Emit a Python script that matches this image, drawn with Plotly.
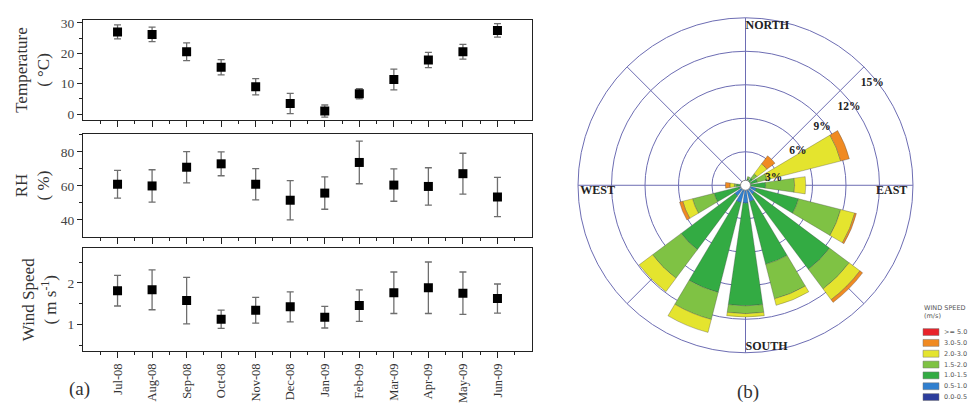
import plotly.graph_objects as go

# ---------------- data ----------------
months = ["Jul-08", "Aug-08", "Sep-08", "Oct-08", "Nov-08", "Dec-08",
          "Jan-09", "Feb-09", "Mar-09", "Apr-09", "May-09", "Jun-09"]
temperature = [27.0, 26.2, 20.5, 15.4, 9.0, 3.5, 1.0, 6.7, 11.4, 17.8, 20.5, 27.5]
temperature_err = [2.3, 2.4, 2.9, 2.5, 2.7, 3.3, 2.0, 1.7, 3.4, 2.5, 2.4, 2.2]
rh = [61.0, 60.0, 71.0, 73.0, 61.0, 51.6, 55.8, 73.8, 60.5, 59.7, 67.2, 53.5]
rh_err = [8.2, 9.5, 9.2, 7.0, 9.2, 11.5, 9.5, 12.5, 9.5, 11.0, 12.0, 11.5]
wind_speed = [1.81, 1.83, 1.57, 1.12, 1.34, 1.42, 1.17, 1.45, 1.76, 1.88, 1.75, 1.62]
wind_speed_err = [0.37, 0.48, 0.56, 0.22, 0.31, 0.36, 0.26, 0.38, 0.50, 0.62, 0.51, 0.35]

directions = [0, 22.5, 45, 67.5, 90, 112.5, 135, 157.5,
              180, 202.5, 225, 247.5, 270, 292.5, 315, 337.5]
#            N    NNE  NE   ENE  E    ESE   SE   SSE  S    SSW  SW   WSW  W    WNW  NW   NNW
ws_00_05 = [0.1, 0.1, 0.1, 0.1, 0.1, 0.2, 0.2, 0.3, 0.3, 0.3, 0.2, 0.1, 0.1, 0.1, 0.1, 0.1]
ws_05_10 = [0.2, 0.2, 0.3, 0.3, 0.3, 0.8, 0.8, 1.2, 1.3, 1.3, 1.0, 0.5, 0.3, 0.2, 0.2, 0.2]
ws_10_15 = [0.0, 0.3, 0.4, 0.7, 1.4, 3.9, 8.4, 5.8, 9.2, 8.3, 6.0, 2.3, 0.4, 0.0, 0.0, 0.0]
ws_15_20 = [0.0, 0.2, 0.5, 0.9, 2.6, 3.9, 2.2, 3.2, 0.7, 2.5, 3.2, 2.0, 0.2, 0.0, 0.0, 0.0]
ws_20_30 = [0.0, 0.0, 1.1, 6.8, 1.0, 1.3, 1.2, 0.6, 0.3, 1.2, 1.5, 0.9, 0.4, 0.0, 0.0, 0.0]
ws_30_50 = [0.0, 0.0, 0.9, 0.8, 0.0, 0.15, 0.3, 0.0, 0.0, 0.0, 0.0, 0.3, 0.4, 0.0, 0.0, 0.0]
ws_50_up = [0.0] * 16

bin_labels = [">= 5.0", "3.0-5.0", "2.0-3.0", "1.5-2.0", "1.0-1.5", "0.5-1.0", "0.0-0.5"]
bin_colors = ["#e8232a", "#f08a22", "#e4e42e", "#7fc244", "#33ab43", "#2f7fcf", "#2c3d9c"]
bin_values = [ws_50_up, ws_30_50, ws_20_30, ws_15_20, ws_10_15, ws_05_10, ws_00_05]

ring_vals = [3, 6, 9, 12, 15]
ring_label_theta = [76, 57, 53, 53, 51]
compass = ["NORTH", "EAST", "SOUTH", "WEST"]

# ---------------- figure ----------------
W, H = 972, 404
SERIF = "Liberation Serif, Times New Roman, serif"
SANS = "DejaVu Sans, sans-serif"


def fx(p):
    return p / W


def fy(p):
    return 1 - p / H


fig = go.Figure()

panels = [
    ("x", "y", temperature, temperature_err),
    ("x2", "y2", rh, rh_err),
    ("x3", "y3", wind_speed, wind_speed_err),
]
xs = list(range(len(months)))
for xa, ya, vals, errs in panels:
    fig.add_trace(go.Scatter(
        x=xs, y=vals, mode="markers", xaxis=xa, yaxis=ya, showlegend=False,
        marker=dict(symbol="square", size=9, color="black"),
        error_y=dict(type="data", array=errs, color="#6e6e6e", thickness=1.3, width=3.5),
    ))

# wind rose (stack from calm outward)
for lab, col, vals in reversed(list(zip(bin_labels, bin_colors, bin_values))):
    fig.add_trace(go.Barpolar(
        r=vals, theta=directions, name=lab, subplot="polar", showlegend=False,
        marker=dict(color=col, line=dict(color="rgba(70,70,70,0.55)", width=0.6)),
    ))
fig.add_trace(go.Scatterpolar(
    r=[0], theta=[0], mode="markers", subplot="polar", showlegend=False,
    marker=dict(color="white", size=10, line=dict(color="#888", width=1)),
))
# ring labels (percent of time)
fig.add_trace(go.Scatterpolar(
    r=[v - 0.4 for v in ring_vals], theta=ring_label_theta, mode="text", subplot="polar",
    text=[f"<b>{v}%</b>" for v in ring_vals], textposition="middle center",
    textfont=dict(family=SERIF, size=11.5, color="#222"), showlegend=False,
))
fig.add_trace(go.Scatterpolar(
    r=[14.3, 14.5, 14.5, 14.8], theta=[0, 90, 180, 270], mode="text", subplot="polar",
    text=[f"<b>{c}</b>" for c in compass],
    textposition=["middle right", "bottom left", "middle right", "bottom right"],
    textfont=dict(family=SERIF, size=12, color="#222"), showlegend=False,
))

xdom = [fx(83), fx(532)]
ydoms = [[fy(118), fy(16)], [fy(236.5), fy(132)], [fy(352.5), fy(248)]]
axline = dict(showline=True, mirror=True, linecolor="#222", linewidth=1.3,
              showgrid=False, zeroline=False, ticks="outside", tickcolor="#222",
              tickwidth=1.2)
tickfont = dict(family=SERIF, size=13.5, color="#444")
titlefont = dict(family=SERIF, size=17, color="#333")

minor_x = dict(tickmode="array", tickvals=[i - 0.5 for i in range(14)], ticklen=3,
               ticks="outside", tickcolor="#222", tickwidth=1.1)
for i, (xa, ya) in enumerate([("xaxis", "yaxis"), ("xaxis2", "yaxis2"), ("xaxis3", "yaxis3")]):
    fig.layout[xa] = dict(domain=xdom, range=[-1, 12], anchor=ya.replace("axis", ""),
                          tickmode="array", tickvals=xs, ticktext=months,
                          showticklabels=(i == 2), tickangle=-90, ticklen=6,
                          tickfont=dict(family=SERIF, size=12.5, color="#333"),
                          minor=minor_x, **axline)

fig.layout.yaxis = dict(domain=ydoms[0], range=[-2, 31], anchor="x",
                        tickmode="array", tickvals=[0, 10, 20, 30], ticklen=5,
                        minor=dict(tickmode="array", tickvals=[5, 15, 25], ticklen=3, ticks="outside"),
                        tickfont=tickfont,
                        title=dict(text="Temperature<br>( °C)", font=titlefont, standoff=6),
                        **axline)
fig.layout.yaxis2 = dict(domain=ydoms[1], range=[30, 90.5], anchor="x2",
                         tickmode="array", tickvals=[40, 60, 80], ticklen=5,
                         minor=dict(tickmode="array", tickvals=[50, 70, 90], ticklen=3, ticks="outside"),
                         tickfont=tickfont,
                         title=dict(text="RH<br>( %)", font=titlefont, standoff=6),
                         **axline)
fig.layout.yaxis3 = dict(domain=ydoms[2], range=[0.35, 2.83], anchor="x3",
                         tickmode="array", tickvals=[1, 2], ticklen=5,
                         minor=dict(tickmode="array", tickvals=[0.5, 1.5, 2.5], ticklen=3, ticks="outside"),
                         tickfont=tickfont,
                         title=dict(text="Wind Speed<br>( m s<sup>-1</sup>)", font=titlefont, standoff=6),
                         **axline)

grid_col = "#6d6db3"
fig.layout.polar = dict(
    domain=dict(x=[fx(575.5), fx(915.5)], y=[fy(354), fy(14)]),
    bgcolor="white", barmode="stack", bargap=0.27,
    radialaxis=dict(range=[0, 15], tickmode="array", tickvals=ring_vals,
                    showticklabels=False, showline=False, ticks="",
                    layer="below traces", gridcolor=grid_col, gridwidth=1),
    angularaxis=dict(direction="clockwise", rotation=90, tickmode="array",
                     tickvals=[0, 45, 90, 135, 180, 225, 270, 315],
                     showticklabels=False, ticks="", layer="below traces",
                     gridcolor=grid_col, gridwidth=1, showline=True,
                     linecolor=grid_col, linewidth=1),
)

# legend for the wind rose
shapes = []
annotations = []
for txt, yy in [("WIND SPEED", 309), ("(m/s)", 317)]:
    annotations.append(dict(x=fx(922), y=fy(yy), xref="paper", yref="paper", text=txt,
                            showarrow=False, xanchor="left", yanchor="middle",
                            font=dict(family=SANS, size=6.5, color="#555")))
for k, (lab, col) in enumerate(zip(bin_labels, bin_colors)):
    cy = 333 + 11 * k
    shapes.append(dict(type="rect", xref="paper", yref="paper", x0=fx(923), x1=fx(939),
                       y0=fy(cy + 3.5), y1=fy(cy - 3.5), fillcolor=col,
                       line=dict(color="#777", width=0.5)))
    annotations.append(dict(x=fx(942), y=fy(cy), xref="paper", yref="paper", text=lab,
                            showarrow=False, xanchor="left", yanchor="middle",
                            font=dict(family=SANS, size=6.5, color="#555")))

annotations.append(dict(x=fx(79), y=fy(391), xref="paper", yref="paper", text="(a)",
                        showarrow=False, xanchor="center", yanchor="middle",
                        font=dict(family=SERIF, size=19, color="#333")))
annotations.append(dict(x=fx(748), y=fy(394), xref="paper", yref="paper", text="(b)",
                        showarrow=False, xanchor="center", yanchor="middle",
                        font=dict(family=SERIF, size=19, color="#333")))

fig.update_layout(width=W, height=H, margin=dict(l=0, r=0, t=0, b=0),
                  paper_bgcolor="white", plot_bgcolor="white",
                  shapes=shapes, annotations=annotations, showlegend=False)

fig.write_html("out.html", config={"displayModeBar": False},
               post_script="document.body.style.margin='0';document.body.style.padding='0';")
